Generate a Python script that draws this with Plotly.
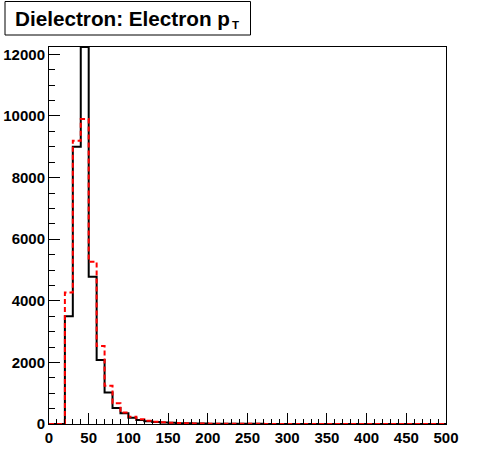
import plotly.graph_objects as go

# ---- data ----
bin_edges = list(range(0, 510, 10))  # 50 bins of width 10 GeV, 0..500

black_counts = [0, 0, 3500, 9000, 12240, 4780, 2080, 1020, 520, 346,
                200, 130, 88, 62, 45, 38, 28, 22, 17, 14,
                11, 9, 8, 7, 6, 5, 5, 4, 4, 3,
                3, 3, 2, 2, 2, 2, 1, 1, 1, 1,
                1, 1, 1, 1, 0, 0, 0, 0, 0, 0]

red_counts = [0, 0, 4270, 9200, 9900, 5270, 2530, 1240, 670, 372,
              238, 153, 108, 76, 55, 40, 30, 24, 18, 15,
              12, 10, 8, 7, 6, 5, 5, 4, 4, 3,
              3, 3, 2, 2, 2, 2, 1, 1, 1, 1,
              1, 1, 1, 1, 0, 0, 0, 0, 0, 0]

x_ticks = [0, 50, 100, 150, 200, 250, 300, 350, 400, 450, 500]
y_ticks = [0, 2000, 4000, 6000, 8000, 10000, 12000]
title_main = "Dielectron: Electron p"
title_sub = "T"
y_max = 12240

FONT = "Liberation Sans, Arial, Helvetica, sans-serif"


def step_xy(edges, counts):
    # hv steps: each bin value held across its width, last value repeated at right edge
    return list(edges), list(counts) + [counts[-1]]


fig = go.Figure()

bx, by = step_xy(bin_edges, black_counts)
fig.add_trace(go.Scatter(x=bx, y=by, mode="lines", line_shape="hv",
                         line=dict(color="black", width=2),
                         cliponaxis=False, showlegend=False, hoverinfo="skip"))

rx, ry = step_xy(bin_edges, red_counts)
fig.add_trace(go.Scatter(x=rx, y=ry, mode="lines", line_shape="hv",
                         line=dict(color="#ff0000", width=2, dash="5px,3px"),
                         cliponaxis=False, showlegend=False, hoverinfo="skip"))

axis_common = dict(
    showgrid=False, zeroline=False, automargin=False,
    showline=True, linecolor="black", linewidth=1, mirror=True,
    ticks="inside", tickcolor="black", tickwidth=1,
    tickfont=dict(family=FONT, size=15, color="black", weight="bold"),
)

fig.update_xaxes(range=[0, 500], tickvals=x_ticks, ticktext=[str(v) for v in x_ticks],
                 ticklen=11,
                 minor=dict(ticks="inside", dtick=10, ticklen=5, tickcolor="black",
                            tickwidth=1, showgrid=False),
                 **axis_common)
fig.update_yaxes(range=[0, y_max], tickvals=y_ticks, ticktext=[str(v) for v in y_ticks],
                 ticklen=11,
                 minor=dict(ticks="inside", dtick=500, ticklen=6, tickcolor="black",
                            tickwidth=1, showgrid=False),
                 **axis_common)

W, H = 496, 472
L, R, T, B = 49, 50, 47, 48
pw, ph = W - L - R, H - T - B


def px_to_paper_x(px):
    return (px - L) / pw


def px_to_paper_y(py):
    return (H - B - py) / ph


# title box
fig.add_shape(type="rect", xref="paper", yref="paper",
              x0=px_to_paper_x(5), x1=px_to_paper_x(250.5),
              y0=px_to_paper_y(35), y1=px_to_paper_y(1.5),
              line=dict(color="black", width=1), fillcolor="white", layer="above")
fig.add_annotation(xref="paper", yref="paper",
                   x=px_to_paper_x(12.5), y=px_to_paper_y(19),
                   xanchor="left", yanchor="middle", showarrow=False,
                   text=title_main,
                   font=dict(family=FONT, size=20.7, color="black", weight="bold"))
fig.add_annotation(xref="paper", yref="paper",
                   x=px_to_paper_x(229.5), y=px_to_paper_y(25.5),
                   xanchor="left", yanchor="middle", showarrow=False,
                   text=title_sub,
                   font=dict(family=FONT, size=11.5, color="black", weight="bold"))

fig.update_layout(width=W, height=H,
                  margin=dict(l=L, r=R, t=T, b=B, pad=0, autoexpand=False),
                  paper_bgcolor="white", plot_bgcolor="white")

fig.write_html("out.html", config={"displayModeBar": False},
               post_script="document.body.style.margin='0';document.body.style.overflow='hidden';")
